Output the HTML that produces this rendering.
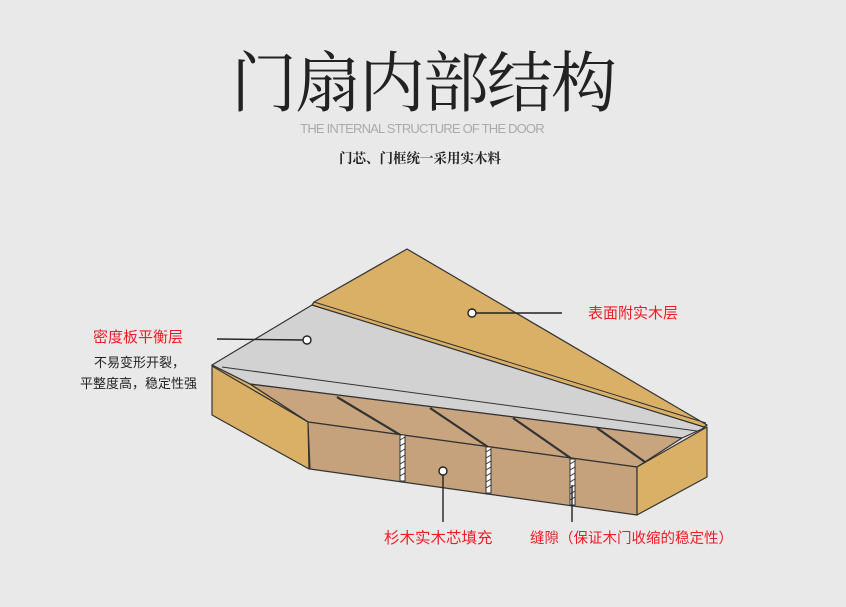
<!DOCTYPE html>
<html><head><meta charset="utf-8"><style>
html,body{margin:0;padding:0;background:#e9e9e9;}
svg{display:block}
</style></head><body>
<svg width="846" height="607" viewBox="0 0 846 607" xmlns="http://www.w3.org/2000/svg">
<rect width="846" height="607" fill="#e9e9e9"/>
<text x="423" y="106" text-anchor="middle" font-family="'Noto Serif CJK SC',serif" font-size="66" fill="#222" letter-spacing="-2">门扇内部结构</text>
<text x="422" y="133" text-anchor="middle" font-family="'Liberation Sans',sans-serif" font-size="13" fill="#aaa" letter-spacing="-0.8">THE INTERNAL STRUCTURE OF THE DOOR</text>
<text x="420" y="163" text-anchor="middle" font-family="'Noto Serif CJK SC',serif" font-size="13.5" font-weight="bold" fill="#222">门芯、门框统一采用实木料</text>

<g stroke="#333" stroke-width="1.2" stroke-linejoin="round">
<!-- interior brown top -->
<polygon points="250,384 308,422 637,467 682,438 660,432" fill="#c8a57f"/>
<!-- dividers -->
<g stroke-width="2.2" fill="none">
<line x1="337" y1="397" x2="402" y2="436"/>
<line x1="430" y1="408" x2="488" y2="447"/>
<line x1="513" y1="418" x2="572" y2="459"/>
<line x1="597" y1="428" x2="645" y2="462"/>
</g>
<!-- gray MDF -->
<polygon points="312,305 707,425 702,429 682,438 250,384 212,365" fill="#d3d2d3"/>
<line x1="222" y1="367" x2="697" y2="431" stroke-width="1"/>
<line x1="250" y1="384" x2="682" y2="438" stroke-width="1"/>
<!-- veneer -->
<polygon points="407,249 707,425 704,427 312,305 314,302" fill="#dab067"/>
<line x1="314" y1="302" x2="706" y2="423" stroke-width="1"/>
<!-- left block -->
<polygon points="212,365 212,415 309,469 308,422 250,384" fill="#dab067"/>
<line x1="212" y1="366" x2="308" y2="422"/>
<!-- front face -->
<polygon points="308,422 637,467 637,515 310,469" fill="#c5a27c"/>
<!-- right block -->
<polygon points="637,467 707,427 707,477 637,515" fill="#dab067"/>
</g>
<!-- hatch strips -->
<g fill="#fff" stroke="#333" stroke-width="1">
<rect x="400" y="435" width="5" height="46"/>
<rect x="486" y="447" width="5" height="46"/>
<rect x="570" y="459" width="5" height="46"/>
</g>
<g stroke="#333" stroke-width="1">
<path d="M400,440 l5,-3 M400,446 l5,-3 M400,452 l5,-3 M400,458 l5,-3 M400,464 l5,-3 M400,470 l5,-3 M400,476 l5,-3 M486,452 l5,-3 M486,458 l5,-3 M486,464 l5,-3 M486,470 l5,-3 M486,476 l5,-3 M486,482 l5,-3 M486,488 l5,-3 M570,464 l5,-3 M570,470 l5,-3 M570,476 l5,-3 M570,482 l5,-3 M570,488 l5,-3 M570,494 l5,-3 M570,500 l5,-3"/>
</g>
<!-- callouts -->
<g stroke="#222" stroke-width="1.4" fill="#fff">
<line x1="217" y1="339" x2="303" y2="340"/>
<circle cx="307" cy="340" r="4"/>
<line x1="476" y1="313" x2="562" y2="313"/>
<circle cx="472" cy="313" r="4"/>
<line x1="443" y1="475" x2="443" y2="522"/>
<circle cx="443" cy="471" r="4"/>
<line x1="572" y1="485" x2="572" y2="522"/>
</g>
<g font-family="'Liberation Sans','Noto Sans CJK SC',sans-serif">
<text x="93" y="342" font-size="15" fill="#ee1c25">密度板平衡层</text>
<text x="94" y="367" font-size="13" fill="#222">不易变形开裂，</text>
<text x="80" y="388" font-size="13" fill="#222">平整度高，稳定性强</text>
<text x="588" y="318" font-size="15" fill="#ee1c25">表面附实木层</text>
<text x="384" y="543" font-size="15.5" fill="#ee1c25">杉木实木芯填充</text>
<text x="530" y="543" font-size="14.5" fill="#ee1c25">缝隙（保证木门收缩的稳定性）</text>
</g>
</svg>
</body></html>
